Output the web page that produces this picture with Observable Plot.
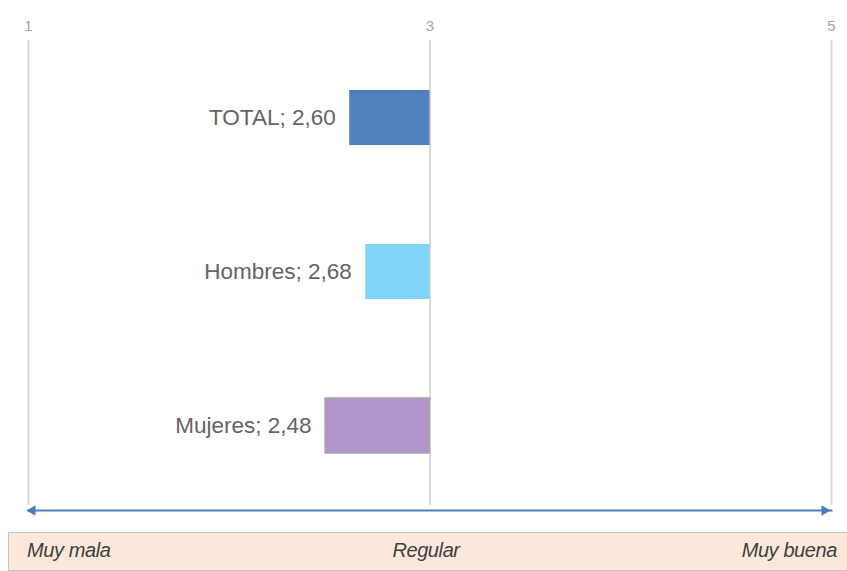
<!DOCTYPE html>
<html><head><meta charset="utf-8">
<script src="https://cdn.jsdelivr.net/npm/d3@7"></script>
<script src="https://cdn.jsdelivr.net/npm/@observablehq/plot@0.6"></script>
<style>
body{margin:0;background:#fff;font-family:"Liberation Sans",Arial,sans-serif;}
#chart svg{display:block;}
#box{margin-left:8px;width:838px;height:37px;border:1px solid #c4c4c4;border-right:none;background:#fce9dc;position:relative;}
#box span{position:absolute;top:6px;font-style:italic;font-size:20px;color:#404040;letter-spacing:-0.4px;}
</style></head><body>
<div id="chart"></div><div id="box"></div>
<script>
const categories = ["TOTAL", "Hombres", "Mujeres"];
const values = [2.60, 2.68, 2.48];
const colors = ["#4f81bd", "#80d5f7", "#b395cd"];
const strokes = ["none", "none", "#a6a6a6"];
const ticks = [1, 3, 5];
const scaleLabels = ["Muy mala", "Regular", "Muy buena"];
const midpoint = 3;

const data = categories.map((c, i) => ({
  cat: c, value: values[i], color: colors[i], stroke: strokes[i],
  label: `${c}; ${values[i].toFixed(2).replace(".", ",")}`
}));

const chart = Plot.plot({
  width: 847, height: 532,
  marginLeft: 28, marginRight: 16, marginTop: 40, marginBottom: 22,
  style: {fontFamily: '"Liberation Sans", Arial, sans-serif', background: "#fff"},
  x: {domain: [1, 5], axis: null},
  y: {domain: categories, axis: null, paddingInner: 0.645, paddingOuter: 0.339, align: 0.47},
  color: {type: "identity"},
  marks: [
    Plot.text(ticks, {x: d => d, text: d => String(d), frameAnchor: "top", dy: -20, fontSize: 15, fill: "#a6a6a6"}),
    Plot.ruleX(ticks, {stroke: "#d9d9d9", strokeWidth: 2, insetBottom: 5}),
    Plot.barX(data, {y: "cat", x1: "value", x2: () => midpoint, fill: d => d.color, stroke: d => d.stroke, strokeWidth: 1.5}),
    Plot.text(data, {x: "value", y: "cat", text: "label", textAnchor: "end", dx: -14, fontSize: 22.5, fill: "#646464"}),
    Plot.frame({anchor: "bottom", stroke: "#4a7ebb", strokeWidth: 2}),
    Plot.dot([ticks[0]], {x: d => d, frameAnchor: "bottom", symbol: "triangle2", rotate: -90, r: 5, fill: "#4a7ebb", dx: 4}),
    Plot.dot([ticks[ticks.length - 1]], {x: d => d, frameAnchor: "bottom", symbol: "triangle2", rotate: 90, r: 5, fill: "#4a7ebb", dx: -7})
  ]
});
document.getElementById("chart").appendChild(chart);

const box = document.getElementById("box");
scaleLabels.forEach((t, i) => {
  const s = document.createElement("span");
  s.textContent = t;
  if (i === 0) s.style.left = "18px";
  else if (i === 1) { s.style.left = "417px"; s.style.transform = "translateX(-50%)"; }
  else s.style.right = "10px";
  box.appendChild(s);
});
</script>
</body></html>
